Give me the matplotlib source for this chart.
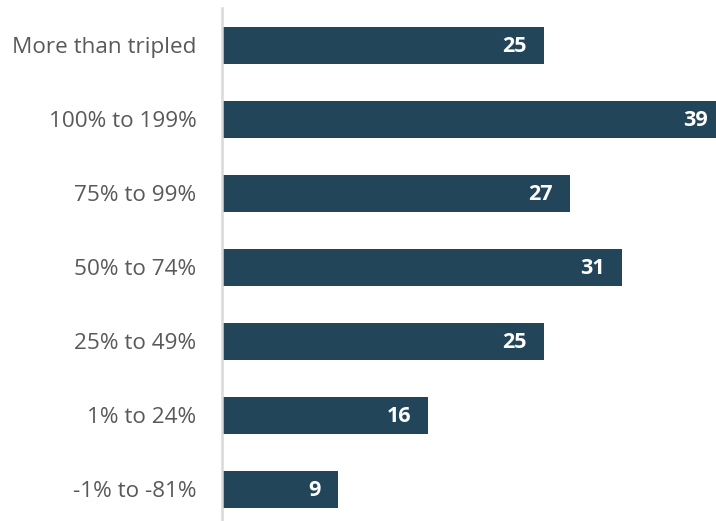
import matplotlib
matplotlib.use("Agg")
import matplotlib.pyplot as plt

categories = ["More than tripled", "100% to 199%", "75% to 99%", "50% to 74%",
              "25% to 49%", "1% to 24%", "-1% to -81%"]
values = [25, 39, 27, 31, 25, 16, 9]

plt.rcParams['font.family'] = ['Open Sans', 'DejaVu Sans']

fig = plt.figure(figsize=(7.16, 5.21), dpi=100)
ax = fig.add_axes([222 / 716, -5 / 521, 494 / 716, 518 / 521])

ypos = list(range(len(categories)))
bars = ax.barh(ypos, values, height=0.5, color='#22455a')

ax.set_xlim(0, 38.3)
ax.set_ylim(len(categories) - 0.5, -0.5)

for y, v in zip(ypos, values):
    ax.annotate(str(v), xy=(v, y), xytext=(-12.5, -1), textcoords='offset points',
                ha='right', va='center', color='white', fontsize=15.5,
                fontweight='bold', annotation_clip=False)

ax.set_yticks(ypos)
ax.set_yticklabels(categories, fontsize=16.2, color='#595959')
ax.tick_params(axis='y', length=0, pad=18.5)
ax.set_xticks([])

for s in ['top', 'right', 'bottom']:
    ax.spines[s].set_visible(False)
ax.spines['left'].set_color('#d9d9d9')
ax.spines['left'].set_linewidth(1.8)

fig.savefig('out.png', dpi=100)
